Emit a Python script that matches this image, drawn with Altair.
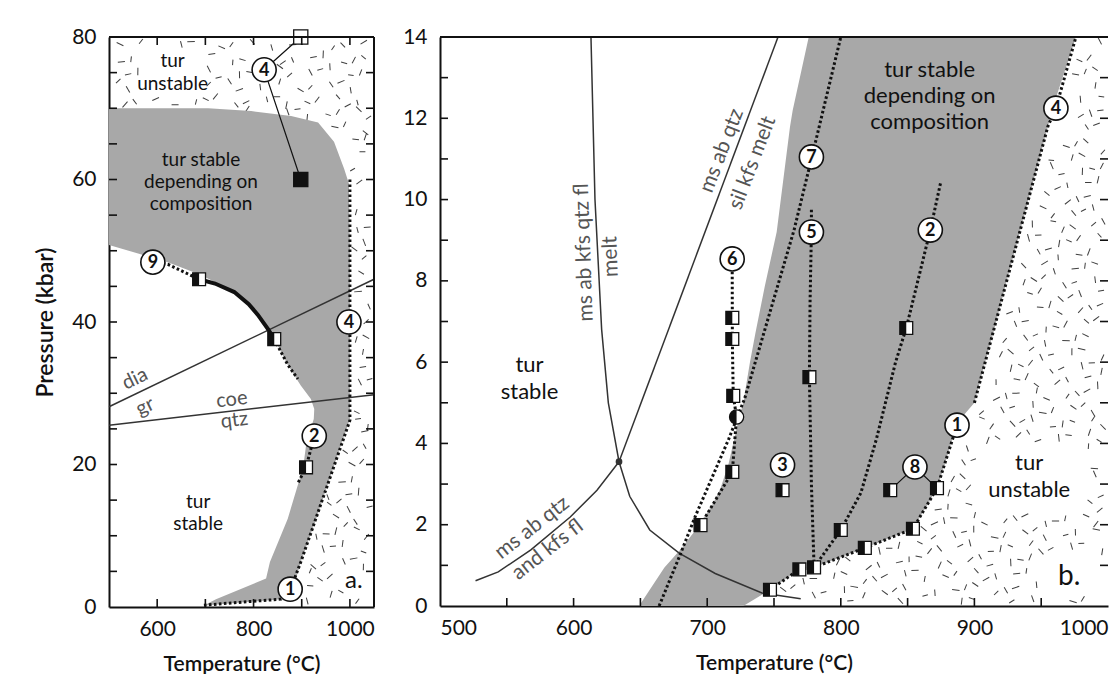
import altair as alt
import pandas as pd
import numpy as np

FONT = "Lato"
GRAY = "#a8a8a8"
INK = "#111111"
RXN = "#555555"

WA, HA = 265, 570
WB, HB = 668, 569

# ---------------- panel a data ----------------
A_TDOM = [500, 1050]
A_PDOM = [0, 80]
A_GRAY_P = [0.2, 1.1, 4.0, 6.3, 12.4, 19.6, 23.2, 26.4, 27.8, 29.2, 31.1, 34.0, 37.6, 41.0, 44.2, 46.6, 48.4, 50.8, 59.4, 61.5, 65.3, 68.0, 68.9, 69.6, 70.0]
A_GRAY_L = [697, 722, 826, 834, 871, 903, 910, 925, 926, 919, 898, 871, 843, 809, 760, 691, 622, 500, 500, 500, 500, 500, 500, 500, 500]
A_GRAY_R = [699, 857, 888, 898, 930, 966, 984, 1000, 1000, 1000, 1000, 1000, 1000, 1000, 1000, 1000, 1000, 1000, 998, 988, 967, 934, 878, 795, 706]

A_DIA_T = [500, 1050]
A_DIA_P = [28.1, 46.0]
A_COE_T = [500, 1050]
A_COE_P = [25.5, 29.8]

A_DOT4_T = [1000, 1000, 898, 884]
A_DOT4_P = [60, 26.2, 6.3, 3.8]
A_DOT1_T = [697, 760, 857, 876]
A_DOT1_P = [0.25, 0.6, 1.1, 2.5]
A_DOT2_T = [893, 909, 926]
A_DOT2_P = [17.5, 19.6, 24.0]
A_DOT9A_T = [591, 622, 687]
A_DOT9A_P = [48.4, 48.1, 46.0]
A_DOT9B_T = [843, 871, 892]
A_DOT9B_P = [37.6, 34.0, 32.0]
A_THICK_T = [687, 720, 760, 790, 809, 830, 843]
A_THICK_P = [46.0, 45.4, 44.2, 42.5, 41.0, 39.0, 37.6]
A_CONN_T = [898, 822, 898]
A_CONN_P = [80, 75.4, 60]

A_HSQ_T = [687, 843, 909]
A_HSQ_P = [46.0, 37.6, 19.6]
A_OPEN_T = [898]
A_OPEN_P = [80]
A_BLACK_T = [898]
A_BLACK_P = [60]

A_CIR_LAB = ["4", "4", "2", "1", "9"]
A_CIR_T = [822, 998, 926, 876, 591]
A_CIR_P = [75.4, 40.0, 24.0, 2.5, 48.4]

A_TXT = ["tur", "unstable", "tur stable", "depending on", "composition", "tur", "stable", "a."]
A_TXT_T = [632, 632, 691, 691, 691, 685, 685, 1008]
A_TXT_P = [76.6, 73.4, 62.7, 59.6, 56.5, 14.7, 11.6, 3.6]
A_TXT_S = [19, 19, 19, 19, 19, 19, 19, 24]

A_RXN = ["dia", "gr", "coe", "qtz"]
A_RXN_T = [554, 575, 755, 760]
A_RXN_P = [32.0, 28.1, 29.1, 26.2]
A_RXN_ANG = [334, 334, 353, 353]

A_XTICKS = [600, 700, 800, 900, 1000]
A_YTICKS = [5, 10, 15, 20, 25, 30, 35, 40, 45, 50, 55, 60, 65, 70, 75]

# boundary of the "tur unstable" field (for the dash texture)
A_UNST_P = [0, 1.1, 2.5, 6.3, 26.2, 59.4, 61.5, 65.3, 68.0, 68.9, 69.6, 70.0, 70.4]
A_UNST_T = [880, 857, 880, 898, 1000, 1000, 988, 967, 934, 878, 795, 706, 500]

# ---------------- panel b data ----------------
B_TDOM = [500, 1000]
B_PDOM = [0, 14]
B_GRAY_P = [0, 0.4, 0.9, 0.95, 1.43, 1.9, 2.5, 2.9, 3.5, 4.5, 5.0, 6.0, 6.7, 7.85, 9.2, 11.8, 12.2, 14]
B_GRAY_L = [649, 657, 667, 668, 681, 692, 704, 710, 716, 723, 727, 732, 736, 743, 752, 762, 764, 776]
B_GRAY_R = [727, 747, 769, 780, 818, 854, 865, 872, 878, 887, 900, 908, 914, 923, 934, 955, 958, 976]

B_C1_T = [613, 616, 621, 626, 634, 642, 657, 679, 706, 741, 770]
B_C1_P = [14, 10, 6.8, 5, 3.55, 2.7, 1.87, 1.3, 0.8, 0.32, 0.18]
B_C2_T = [634, 753]
B_C2_P = [3.55, 14]
B_C3_T = [526.6, 543.6, 568, 597.5, 617.5, 634]
B_C3_P = [0.62, 0.84, 1.38, 2.19, 2.85, 3.55]
B_INV_T = [634]
B_INV_P = [3.55]

B_D7_T = [664, 679, 691, 716, 728, 736, 765, 778, 800]
B_D7_P = [0, 1.2, 2.2, 4.1, 5.1, 6.0, 9.25, 11.0, 14]
B_D6_T = [695, 718.8, 722, 719.5, 718.8, 718.8, 718.7]
B_D6_P = [1.99, 3.3, 4.65, 5.17, 6.57, 7.09, 8.54]
B_D5_T = [778, 778, 777, 776.5, 778, 780]
B_D5_P = [9.75, 9.2, 7.5, 5.63, 3.0, 0.95]
B_D2_T = [874.6, 867, 849, 841, 826.6, 815, 800, 780]
B_D2_P = [10.4, 9.25, 6.84, 6.0, 4.1, 2.78, 1.87, 0.95]
B_D1_T = [747, 769, 780, 818, 854, 872, 887]
B_D1_P = [0.4, 0.9, 0.95, 1.43, 1.9, 2.9, 4.45]
B_D4_T = [900, 923, 955, 961, 976]
B_D4_P = [5.0, 7.85, 11.8, 12.25, 14]
B_CONN_T = [837, 855.5, 872]
B_CONN_P = [2.85, 3.42, 2.9]

B_HSQ_T = [718.8, 718.8, 719.5, 718.8, 695, 776.5, 849, 756.4, 837, 872, 854, 818, 800, 780, 769, 747]
B_HSQ_P = [7.09, 6.57, 5.17, 3.3, 1.99, 5.63, 6.84, 2.85, 2.85, 2.9, 1.9, 1.43, 1.87, 0.95, 0.9, 0.4]
B_HCIR_T = [722]
B_HCIR_P = [4.65]

B_CIR_LAB = ["6", "7", "5", "2", "4", "3", "8", "1"]
B_CIR_T = [718.7, 778, 778, 867, 961, 756.4, 855.5, 887]
B_CIR_P = [8.54, 11.05, 9.2, 9.25, 12.25, 3.47, 3.42, 4.45]

B_TXT = ["tur", "stable", "tur stable", "depending on", "composition", "tur", "unstable", "b."]
B_TXT_T = [567, 567, 866.5, 866.5, 866.5, 941, 941, 971]
B_TXT_P = [5.93, 5.27, 13.2, 12.55, 11.9, 3.52, 2.85, 0.72]
B_TXT_S = [22, 22, 22, 22, 22, 22, 22, 28]

B_RXN = ["ms ab kfs qtz fl", "melt", "ms ab qtz", "sil kfs melt", "ms ab qtz", "and kfs fl"]
B_RXN_T = [608, 628, 711, 734, 569, 580.6]
B_RXN_P = [8.7, 8.6, 11.2, 10.9, 1.92, 1.38]
B_RXN_ANG = [268, 268, 291, 291, 322, 322]

B_XTICKS = [550, 600, 650, 700, 750, 800, 850, 900, 950]
B_YTICKS = [1, 2, 3, 4, 5, 6, 7, 8, 9, 10, 11, 12, 13]

B_UNST_P = [0, 0.4, 0.9, 0.95, 1.43, 1.9, 2.9, 4.45, 5.0, 7.85, 11.8, 14]
B_UNST_T = [760, 747, 769, 780, 818, 854, 872, 887, 900, 923, 955, 976]

HALF_SQ = "M -1 -1 L 0 -1 L 0 1 L -1 1 Z"
HALF_CI = "M 0 -1 A 1 1 0 0 0 0 1 Z"
DASH = "M -1 0 L 1 0"


def lines_df(segs):
    rows = []
    for name, ts, ps in segs:
        for i, (t, p) in enumerate(zip(ts, ps)):
            rows.append({"line": name, "idx": i, "T": t, "P": p})
    return pd.DataFrame(rows)


def texture(W, H, tdom, pdom, bound_p, bound_t, margin, excl, step=14):
    rows = []
    k = 0
    for r in range(int(H / step) + 2):
        for c in range(int(W / step) + 2):
            k += 1
            jx = ((k * 0.618034) % 1 - 0.5) * step * 0.8
            jy = ((k * 0.754878) % 1 - 0.5) * step * 0.8
            px = c * step + (r % 2) * step / 2 + jx
            py = r * step + step / 2 + jy
            if px < 4 or px > W - 4 or py < 4 or py > H - 4:
                continue
            T = tdom[0] + px / W * (tdom[1] - tdom[0])
            P = pdom[1] - py / H * (pdom[1] - pdom[0])
            if T <= np.interp(P, bound_p, bound_t) + margin:
                continue
            bad = False
            for (t0, t1, p0, p1) in excl:
                if t0 <= T <= t1 and p0 <= P <= p1:
                    bad = True
            if bad:
                continue
            rows.append({"T": T, "P": P, "ang": ((k * 0.5698403) % 1) * 180,
                         "len": 30 + ((k * 0.4142136) % 1) * 30})
    return pd.DataFrame(rows)


def build_panel(W, H, tdom, pdom, xaxis, yaxis, xtitle, ytitle, d):
    def X(f):
        return alt.X(f"{f}:Q", scale=alt.Scale(domain=tdom, nice=False, zero=False), axis=xaxis, title=xtitle)

    def Y(f):
        return alt.Y(f"{f}:Q", scale=alt.Scale(domain=pdom, nice=False, zero=False), axis=yaxis, title=ytitle)

    def X2(f):
        return alt.X2(f"{f}:Q")

    layers = []
    layers.append(alt.Chart(d["tex"]).mark_point(shape=DASH, filled=False, stroke="#2a2a2a", strokeWidth=1.0, opacity=0.9)
                  .encode(x=X("T"), y=Y("P"), angle=alt.Angle("ang:Q", scale=None),
                          size=alt.Size("len:Q", scale=None)))
    layers.append(alt.Chart(d["gray"]).mark_area(orient="horizontal", color=GRAY, opacity=1)
                  .encode(y=Y("P"), x=X("L"), x2=X2("R")))
    layers.append(alt.Chart(d["rxn"]).mark_line(color="#333333", strokeWidth=1.5)
                  .encode(x=X("T"), y=Y("P"), detail="line:N", order="idx:Q"))
    layers.append(alt.Chart(d["conn"]).mark_line(color=INK, strokeWidth=1.2)
                  .encode(x=X("T"), y=Y("P"), detail="line:N", order="idx:Q"))
    layers.append(alt.Chart(d["dots"]).mark_line(color=INK, strokeWidth=3, strokeDash=[2.6, 2.4])
                  .encode(x=X("T"), y=Y("P"), detail="line:N", order="idx:Q"))
    if d.get("thick") is not None:
        layers.append(alt.Chart(d["thick"]).mark_line(color=INK, strokeWidth=4)
                      .encode(x=X("T"), y=Y("P"), detail="line:N", order="idx:Q"))
    if d.get("inv") is not None:
        layers.append(alt.Chart(d["inv"]).mark_point(shape="circle", filled=True, color="#333333", size=45, opacity=1)
                      .encode(x=X("T"), y=Y("P")))
    if d.get("open") is not None:
        layers.append(alt.Chart(d["open"]).mark_point(shape="square", filled=True, fill="white", stroke=INK, strokeWidth=1.3, size=200, opacity=1)
                      .encode(x=X("T"), y=Y("P")))
    if d.get("black") is not None:
        layers.append(alt.Chart(d["black"]).mark_point(shape="square", filled=True, fill=INK, stroke=INK, strokeWidth=1.3, size=200, opacity=1)
                      .encode(x=X("T"), y=Y("P")))
    layers.append(alt.Chart(d["hsq"]).mark_point(shape="square", filled=True, fill="white", stroke=INK, strokeWidth=1.3, size=165, opacity=1)
                  .encode(x=X("T"), y=Y("P")))
    layers.append(alt.Chart(d["hsq"]).mark_point(shape=HALF_SQ, filled=True, fill=INK, strokeWidth=0, size=165, opacity=1)
                  .encode(x=X("T"), y=Y("P")))
    if d.get("hcir") is not None:
        layers.append(alt.Chart(d["hcir"]).mark_point(shape="circle", filled=True, fill="white", stroke=INK, strokeWidth=1.3, size=200, opacity=1)
                      .encode(x=X("T"), y=Y("P")))
        layers.append(alt.Chart(d["hcir"]).mark_point(shape=HALF_CI, filled=True, fill=INK, strokeWidth=0, size=200, opacity=1)
                      .encode(x=X("T"), y=Y("P")))
    layers.append(alt.Chart(d["cir"]).mark_point(shape="circle", filled=True, fill="white", stroke=INK, strokeWidth=1.6, size=580, opacity=1)
                  .encode(x=X("T"), y=Y("P")))
    layers.append(alt.Chart(d["cir"]).mark_text(font=FONT, fontSize=18, fontWeight="bold", color=INK, baseline="middle", align="center", dy=1)
                  .encode(x=X("T"), y=Y("P"), text="lab:N"))
    layers.append(alt.Chart(d["txt"]).mark_text(font=FONT, color=INK, baseline="middle", align="center")
                  .encode(x=X("T"), y=Y("P"), text="text:N", size=alt.Size("s:Q", scale=None)))
    layers.append(alt.Chart(d["rtxt"]).mark_text(font=FONT, fontSize=d["rsize"], color=RXN, baseline="middle", align="center")
                  .encode(x=X("T"), y=Y("P"), text="text:N", angle=alt.Angle("ang:Q", scale=None)))
    layers.append(alt.Chart(pd.DataFrame({"t": d["xt"]})).mark_rule(color=INK, strokeWidth=1.6)
                  .encode(x=X("t"), y=alt.value(H), y2=alt.value(H - 8)))
    layers.append(alt.Chart(pd.DataFrame({"t": d["yt"]})).mark_rule(color=INK, strokeWidth=1.6)
                  .encode(y=Y("t"), x=alt.value(0), x2=alt.value(8)))
    if d.get("top_ticks"):
        layers.append(alt.Chart(pd.DataFrame({"t": d["xt"]})).mark_rule(color=INK, strokeWidth=1.6)
                      .encode(x=X("t"), y=alt.value(0), y2=alt.value(8)))
    layers.append(alt.Chart(pd.DataFrame({"t": d["yt"]})).mark_rule(color=INK, strokeWidth=1.6)
                  .encode(y=Y("t"), x=alt.value(W - 8), x2=alt.value(W)))
    one = pd.DataFrame({"a": [0]})
    layers.append(alt.Chart(one).mark_rule(color=INK, strokeWidth=2)
                  .encode(x=alt.value(0), x2=alt.value(W), y=alt.value(0)))
    if d.get("right_frame"):
        layers.append(alt.Chart(one).mark_rule(color=INK, strokeWidth=2)
                      .encode(x=alt.value(W), y=alt.value(0), y2=alt.value(H)))
    return alt.layer(*layers).properties(width=W, height=H)


def axis(values, pad, flush=False, tsize=22, tpad=14):
    return alt.Axis(values=values, ticks=False, grid=False, domain=True, domainColor=INK, domainWidth=2,
                    labelFont=FONT, labelFontSize=21, labelColor=INK, labelPadding=pad, labelOverlap=False,
                    labelFlush=flush, format="d",
                    titleFont=FONT, titleFontSize=tsize, titleFontWeight=600, titleColor=INK, titlePadding=tpad)


da = {
    "gray": pd.DataFrame({"P": A_GRAY_P, "L": A_GRAY_L, "R": A_GRAY_R}),
    "rxn": lines_df([("dia", A_DIA_T, A_DIA_P), ("coe", A_COE_T, A_COE_P)]),
    "conn": lines_df([("c4", A_CONN_T, A_CONN_P)]),
    "dots": lines_df([("d4", A_DOT4_T, A_DOT4_P), ("d1", A_DOT1_T, A_DOT1_P), ("d2", A_DOT2_T, A_DOT2_P),
                      ("d9a", A_DOT9A_T, A_DOT9A_P), ("d9b", A_DOT9B_T, A_DOT9B_P)]),
    "thick": lines_df([("t9", A_THICK_T, A_THICK_P)]),
    "open": pd.DataFrame({"T": A_OPEN_T, "P": A_OPEN_P}),
    "black": pd.DataFrame({"T": A_BLACK_T, "P": A_BLACK_P}),
    "hsq": pd.DataFrame({"T": A_HSQ_T, "P": A_HSQ_P}),
    "cir": pd.DataFrame({"T": A_CIR_T, "P": A_CIR_P, "lab": A_CIR_LAB}),
    "txt": pd.DataFrame({"T": A_TXT_T, "P": A_TXT_P, "text": A_TXT, "s": A_TXT_S}),
    "rtxt": pd.DataFrame({"T": A_RXN_T, "P": A_RXN_P, "text": A_RXN, "ang": A_RXN_ANG}),
    "rsize": 20,
    "xt": A_XTICKS, "yt": A_YTICKS, "top_ticks": True, "right_frame": True,
    "tex": texture(WA, HA, A_TDOM, A_PDOM, A_UNST_P, A_UNST_T, 8,
                   [(565, 700, 71.3, 78.6), (985, 1035, 1.6, 5.6), (795, 850, 73.0, 77.8), (970, 1026, 37.8, 42.2),
                    (850, 905, 0.5, 4.5)]),
}
panel_a = build_panel(WA, HA, A_TDOM, A_PDOM, axis([600, 800, 1000], 11, tsize=21, tpad=14),
                      axis([0, 20, 40, 60, 80], 13, tsize=23, tpad=14),
                      "Temperature (°C)", "Pressure (kbar)", da)

db = {
    "gray": pd.DataFrame({"P": B_GRAY_P, "L": B_GRAY_L, "R": B_GRAY_R}),
    "rxn": lines_df([("c1", B_C1_T, B_C1_P), ("c2", B_C2_T, B_C2_P), ("c3", B_C3_T, B_C3_P)]),
    "conn": lines_df([("c8", B_CONN_T, B_CONN_P)]),
    "dots": lines_df([("d7", B_D7_T, B_D7_P), ("d6", B_D6_T, B_D6_P), ("d5", B_D5_T, B_D5_P),
                      ("d2", B_D2_T, B_D2_P), ("d1", B_D1_T, B_D1_P), ("d4", B_D4_T, B_D4_P)]),
    "inv": pd.DataFrame({"T": B_INV_T, "P": B_INV_P}),
    "hsq": pd.DataFrame({"T": B_HSQ_T, "P": B_HSQ_P}),
    "hcir": pd.DataFrame({"T": B_HCIR_T, "P": B_HCIR_P}),
    "cir": pd.DataFrame({"T": B_CIR_T, "P": B_CIR_P, "lab": B_CIR_LAB}),
    "txt": pd.DataFrame({"T": B_TXT_T, "P": B_TXT_P, "text": B_TXT, "s": B_TXT_S}),
    "rtxt": pd.DataFrame({"T": B_RXN_T, "P": B_RXN_P, "text": B_RXN, "ang": B_RXN_ANG}),
    "rsize": 21,
    "xt": B_XTICKS, "yt": B_YTICKS, "top_ticks": False, "right_frame": False,
    "tex": texture(WB, HB, B_TDOM, B_PDOM, B_UNST_P, B_UNST_T, 6,
                   [(900, 985, 2.3, 4.05), (950, 995, 0.2, 1.3), (945, 978, 11.6, 12.9), (872, 902, 3.9, 5.0)]),
}
panel_b = build_panel(WB, HB, B_TDOM, B_PDOM, axis([500, 600, 700, 800, 900, 1000], 11, flush=True, tsize=21, tpad=14),
                      axis([0, 2, 4, 6, 8, 10, 12, 14], 13), "Temperature (°C)", None, db)

chart = (alt.hconcat(panel_a, panel_b, spacing=25)
         .properties(padding={"left": 26, "top": 18, "right": 0, "bottom": 0}, background="white")
         .configure_view(strokeWidth=0))

chart.save("out.html", embed_options={"renderer": "svg", "actions": False})
